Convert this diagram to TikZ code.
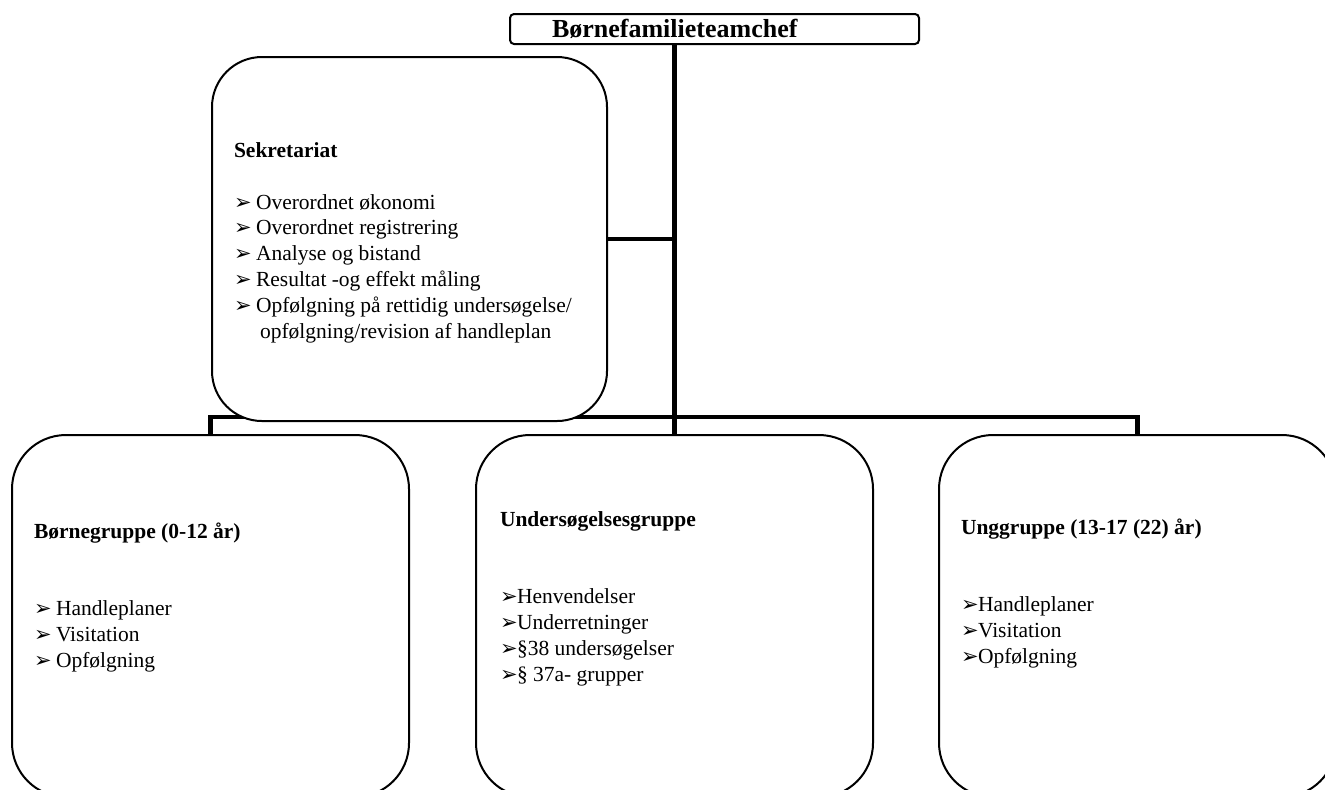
\documentclass[tikz,border=0pt]{standalone}
\usepackage{fontspec}
\setmainfont{Liberation Serif}
\newfontfamily\pilfont{DejaVu Sans}
\tikzset{
every picture/.style={
line width=1pt
}}
\usetikzlibrary{backgrounds}
\newcommand{\pil}{\makebox[11pt][l]{\pilfont\bfseries\fontsize{10.5}{10}\selectfont ➢}}
\newcommand{\pilk}{\makebox[8.5pt][l]{\pilfont\bfseries\fontsize{10.5}{10}\selectfont ➢}}

\begin{document}
\begin{tikzpicture}[x=0.5pt, y=-0.5pt,
boks/.style = {rectangle, draw=black, fill=white, rounded corners=27pt, minimum width=198.5pt, minimum height=181pt, inner sep=0pt},
leder/.style = {rectangle, draw=black, fill=white, rounded corners=2pt, minimum height=15pt, text width=162.5pt, inner xsep=21pt, inner ysep=0pt, align=left, font=\fontsize{13}{15}\selectfont\bfseries},
tekst/.style = {anchor=base west, inner sep=0pt, align=left, font=\fontsize{10.75}{12.9}\selectfont},
forb/.style = {draw=black, line width=2.2pt}]

  \useasboundingbox (0,0) rectangle (1325,789);

  \node[leder] (chef) at (714.5,29) {Børnefamilieteamchef};
  \node[boks, minimum width=197.5pt, minimum height=182pt, rounded corners=25pt] (sek) at (409.5,239) {};
  \node[boks] (born) at (210.5,616) {};
  \node[boks] (und) at (674.5,616) {};
  \node[boks] (ung) at (1137.5,616) {};

  % base = baseline of the last line
  \node[tekst] (sektxt) at (233,338) {\textbf{Sekretariat}\\[12.9pt]
    \pil Overordnet økonomi\\
    \pil Overordnet registrering\\
    \pil Analyse og bistand\\
    \pil Resultat -og effekt måling\\
    \pil Opfølgning på rettidig undersøgelse/\\
    \hspace*{13pt}opfølgning/revision af handleplan};
  \node[tekst] (borntxt) at (33,667) {\textbf{Børnegruppe (0-12 år)}\\[25.8pt]
    \pil Handleplaner\\
    \pil Visitation\\
    \pil Opfølgning};
  \node[tekst] (undtxt) at (499,681) {\textbf{Undersøgelsesgruppe}\\[25.8pt]
    \pilk Henvendelser\\
    \pilk Underretninger\\
    \pilk §38 undersøgelser\\
    \pilk § 37a- grupper};
  \node[tekst] (ungtxt) at (960,663) {\textbf{Unggruppe (13-17 (22) år)}\\[25.8pt]
    \pilk Handleplaner\\
    \pilk Visitation\\
    \pilk Opfølgning};

  \coordinate (bus) at (673,417);

  \begin{scope}[on background layer]
    \draw[forb] (und.north |- chef.south) -- (und.north);
    \draw[forb] (sek.east) -- (sek.east -| und.north);
    \draw[forb] (born.north) |- (bus) -| (ung.north);
  \end{scope}

\end{tikzpicture}
\end{document}
